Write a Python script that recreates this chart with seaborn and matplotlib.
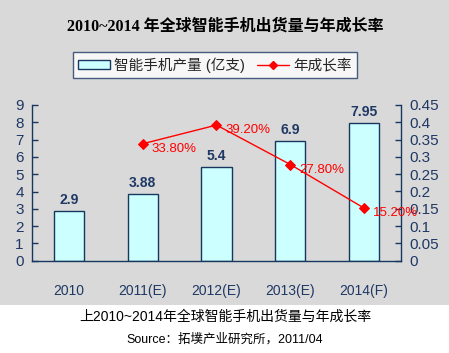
import matplotlib
matplotlib.use("Agg")
import matplotlib.pyplot as plt
import matplotlib.patches as mpatches
from matplotlib.lines import Line2D
import numpy as np
import pandas as pd
import seaborn as sns

years = ["2010", "2011(E)", "2012(E)", "2013(E)", "2014(F)"]
shipments = [2.9, 3.88, 5.4, 6.9, 7.95]
growth_years = ["2011(E)", "2012(E)", "2013(E)", "2014(F)"]
growth = [0.338, 0.392, 0.278, 0.152]
growth_labels = ["33.80%", "39.20%", "27.80%", "15.20%"]
left_ticks = list(range(0, 10))
right_ticks = [0, 0.05, 0.1, 0.15, 0.2, 0.25, 0.3, 0.35, 0.4, 0.45]
right_tick_labels = ["0", "0.05", "0.1", "0.15", "0.2", "0.25", "0.3", "0.35", "0.4", "0.45"]

sns.set_theme(style="white")
SANS = ["Liberation Sans", "Noto Sans CJK SC", "DejaVu Sans"]
plt.rcParams["font.family"] = SANS

NAVY = "#1F3864"
AXIS = "#17375E"
GRAY = "#D9D9D9"

fig = plt.figure(figsize=(4.49, 3.53), dpi=100)
fig.patch.set_facecolor(GRAY)
wr = mpatches.Rectangle((0, 0), 1, 1 - 305 / 353, transform=fig.transFigure,
                        facecolor="white", edgecolor="none", zorder=-5)
fig.patches.append(wr)

ax = fig.add_axes([32 / 449, 1 - 260.7 / 353, (401 - 32) / 449, (260.7 - 105) / 353])
ax.set_facecolor("none")

df = pd.DataFrame({"year": years, "val": shipments})
sns.barplot(data=df, x="year", y="val", ax=ax, color="#CCFFFF", edgecolor=AXIS,
            linewidth=1.0, width=0.41, saturation=1)
ax.set_xlim(-0.5, 4.5)
ax.set_ylim(0, 9)
ax.set_xlabel("")
ax.set_ylabel("")
ax.set_yticks(left_ticks)
ax.set_yticklabels([str(t) for t in left_ticks])
ax.set_xticks(np.arange(len(years)))
ax.set_xticklabels(years)
ax.set_xticks(np.arange(-0.5, len(years) + 0.5, 1), minor=True)
ax.tick_params(axis="x", which="major", length=0, pad=17, labelsize=10, labelcolor=NAVY)
ax.tick_params(axis="x", which="minor", direction="in", length=4, color=AXIS, width=1)
ax.tick_params(axis="y", direction="in", length=4, color=AXIS, width=1, labelsize=11,
               labelcolor=NAVY, pad=6)
for s in ["left", "bottom"]:
    ax.spines[s].set_color(AXIS)
    ax.spines[s].set_linewidth(1)
ax.spines["top"].set_visible(False)
ax.spines["right"].set_visible(False)

for i, v in enumerate(shipments):
    ax.annotate(f"{v:g}", (i, v), xytext=(0, 4), textcoords="offset pixels",
                ha="center", va="bottom", fontsize=10, fontweight="bold", color=NAVY)

ax2 = ax.twinx()
ax2.set_facecolor("none")
gx = [years.index(g) for g in growth_years]
gdf = pd.DataFrame({"x": gx, "g": growth})
sns.lineplot(data=gdf, x="x", y="g", ax=ax2, color="#FF0000", linewidth=1,
             marker="D", markersize=5, markeredgecolor="#FF0000")
ax2.set_ylim(0, 0.45)
ax2.set_xlim(-0.5, 4.5)
ax2.set_ylabel("")
ax2.set_xlabel("")
ax2.set_yticks(right_ticks)
ax2.set_yticklabels(right_tick_labels)
ax2.tick_params(axis="y", direction="in", length=4, color=AXIS, width=1, labelsize=11,
                labelcolor=NAVY, pad=6)
for s in ["left", "top", "bottom"]:
    ax2.spines[s].set_visible(False)
ax2.spines["right"].set_color(AXIS)
ax2.spines["right"].set_linewidth(1)

for x, g, lab in zip(gx, growth, growth_labels):
    ax2.annotate(lab, (x, g), xytext=(9, -5), textcoords="offset pixels",
                 ha="left", va="center", fontsize=9.5, color="#FF0000")

fig.text(225 / 449, 1 - 27 / 353, "2010~2014 年全球智能手机出货量与年成长率",
         ha="center", va="center", fontsize=11.5, fontweight="bold",
         family=["Liberation Serif", "Noto Sans CJK SC", "DejaVu Sans"], color="black")

handles = [mpatches.Patch(facecolor="#CCFFFF", edgecolor=AXIS, linewidth=1),
           Line2D([0], [0], color="#FF0000", linewidth=1, marker="D", markersize=4)]
leg = fig.legend(handles, ["智能手机产量 (亿支)", "年成长率"], loc="center",
                 bbox_to_anchor=(215 / 449, 1 - 65 / 353), ncol=2, frameon=True,
                 fancybox=False, fontsize=10.5, handlelength=2.2, handleheight=0.5,
                 columnspacing=0.8, handletextpad=0.3, borderpad=0.35)
leg.get_frame().set_edgecolor(NAVY)
leg.get_frame().set_linewidth(1)
leg.get_frame().set_facecolor("white")

fig.text(225 / 449, 1 - 317 / 353, "上2010~2014年全球智能手机出货量与年成长率",
         ha="center", va="center", fontsize=10, color="black")
fig.text(225 / 449, 1 - 339 / 353, "Source：拓墣产业研究所，2011/04",
         ha="center", va="center", fontsize=9, color="black")

fig.savefig("out.png", dpi=100, facecolor=GRAY)
